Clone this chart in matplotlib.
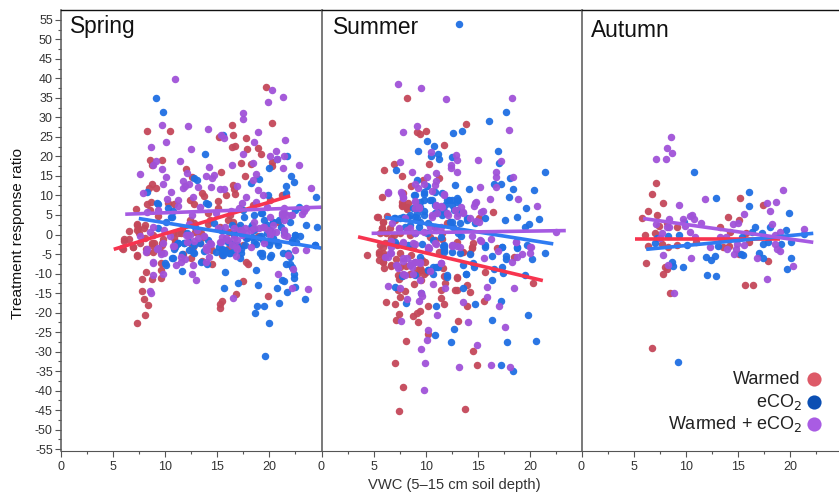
import numpy as np
import matplotlib
matplotlib.use('Agg')
import matplotlib.pyplot as plt

plt.rcParams['font.family'] = ['Liberation Sans', 'DejaVu Sans']
plt.rcParams['axes.unicode_minus'] = False

seasons = ['Spring', 'Summer', 'Autumn']
legend_labels = ['Warmed', 'eCO$_2$', 'Warmed + eCO$_2$']

# (VWC, response ratio)
spring_warmed = [(19.7,37.8),(20.3,28.6),(8.3,26.5),(10.5,26.5),(16.4,28),(15.2,25.1),(16.5,25.5),(17.8,24.6),
    (16.7,22.7),(16.4,22.5),(18.9,22.1),(17.9,21.9),(19.2,20.7),(9.7,19.1),(8.6,19),(8.8,17.8),(20.3,18.6),
    (20.3,17.6),(17.3,18.2),(18.2,18.1),(12,16.9),(15.4,15.9),(17.7,14.9),(12.6,14.7),(8.8,13),(8.5,11.9),
    (9.1,11.9),(16.5,12.7),(13.6,10.7),(13.7,9.9),(15.9,10),(16.7,10.3),(16.6,11.7),(21.2,10),(12.4,8.8),
    (12.8,7.8),(15.1,8.6),(10.9,7.8),(8.3,7.8),(8.7,8.3),(7.2,6.5),(20.1,8.8),(18.4,7.6),(14.1,5.4),(16,3.7),
    (7.3,2.7),(7.4,1.7),(6.6,1),(8,1.6),(7.5,0.5),(6.1,-1.1),(6.6,-1.1),(8.1,-1),(8.9,-0.1),(9.3,4.7),(10.9,-1),
    (11.3,0.3),(12.8,2.9),(14.1,2.7),(15.3,2),(16.1,0.7),(16.5,3.3),(16.9,2),(12.6,-3.1),(13.7,-0.6),(11,-2.7),
    (9.8,-1.2),(18.9,-0.5),(20.8,3.3),(8.8,-2.3),(6.9,-3.1),(5.9,-3.5),(6.1,-1.6),(6,-3.6),(6.9,-3.3),(7.3,-5.4),
    (8.2,-3.8),(8.8,-2.7),(9.7,-2.7),(9.6,-4.4),(9.6,-7.2),(9.6,-9.2),(8.2,-9.6),(7.8,-11.5),(8.8,-11.4),
    (9.6,-11.2),(7.8,-14.5),(8,-16.6),(8.4,-18),(8.1,-20.5),(7.3,-22.7),(11.7,-5),(12.5,-5.9),(12.7,-3.1),
    (13.6,-6.7),(14.5,-7.6),(14.5,-4),(15.5,-5.3),(18,-7.5),(17.5,-11.8),(16.8,-15.2),(15.5,-17.1),(15.3,-17.9),
    (15.3,-18.9),(19.9,-15.7),(11,-1.8),(17.5,-2.7),(16,-3.6),
    (7.3,2.4),(7.3,1.1),(8.1,2.4),(7.6,-2.3),(7.3,-5.3),(9,-2.3),(9.7,-2.3),(8.9,-4.4),(11.6,1.1),(10.8,0.3),
    (11.5,0.3),(12.9,0.7),(13.5,0.3),(13.4,-2.3),(8.6,6.3),(10.3,8),(8.3,-4.4),(12.4,3.7),(14.3,3.7),(16.2,5),
    (15.1,6.7),(17.8,-7)]
spring_eco2 = [(9.1,34.9),(9.8,31.4),(15.6,25.6),(13.8,20.6),(20.7,19.4),(21.7,20),(20,17),(22.1,15.1),(22.4,13.4),
    (21.6,12.3),(12.8,14.4),(13.1,13.9),(18.2,13.1),(19,14.1),(8.3,11),(19.9,10),(21.6,10.7),(24.5,9.6),(9.3,7.9),
    (14.1,7.7),(10.3,6.7),(10.8,6.1),(22.8,7.1),(22.5,6.3),(23.5,2.4),(24.6,1.9),(22.5,-0.1),(22.9,-0.5),
    (24.4,-2.7),(22.2,-1.4),(21.1,2),(22,3.3),(20.4,3.3),(19.5,3.7),(19.2,5.4),(17.6,4.6),(18.2,2),(19.8,0.3),
    (17.3,1.2),(16.6,0.3),(15.4,1.2),(14.1,-1.4),(11.3,-2.3),(9.3,1.6),(10.1,3.3),(10.6,4.6),(12.9,2),(14.7,2.9),
    (16,-1.8),(17.9,-1),(19.2,-0.5),(20.4,-1),(12.8,-2.7),(15.2,-3.1),(16.9,-2.7),(18.5,1.2),(20.1,1.2),(21.4,0.7),
    (12.1,0.3),(10.1,-7.8),(10.7,-6.1),(10.9,-3.7),(11.2,-2.4),(11.8,-2.3),(12.3,-2),(11.6,-5),(11.6,-9.3),
    (12.8,-4.8),(13.5,-7),(14,-7.5),(13.7,-4.2),(14.9,-4.5),(13.4,-2.3),(15.8,-9.5),(15.7,-13.6),(15.5,-4.8),
    (16.1,-4.7),(16.5,-4.4),(17.3,-4.8),(17.2,-5.9),(15.5,-3.6),(17,-12.4),(18.7,-9),(18.9,-13),(18.8,-18.2),
    (18.6,-20),(19.5,-18.2),(20,-22.6),(19.6,-31),(19.3,-5.4),(19.1,-4.8),(20.2,-5.3),(20,-2.7),(20.8,-2.7),
    (21.3,-4.7),(21.8,-4.7),(21.6,-7.5),(22,-5.7),(22,-7.6),(22.2,-8.3),(22.4,-10.2),(22.4,-11.2),(22.5,-13.4),
    (21.2,-11.7),(21.4,-12),(20.7,-13.6),(21.7,-14.7),(20.9,-17.6),(23.4,-16.5),(24.4,-2.6),(17.3,-3.6),
    (16.5,-2.7),(18.7,-2.4),
    (20.4,3.3),(20.9,3.7),(19.8,2.4),(18.3,2.4),(17.2,2.4),(16.4,2.4),(17.8,-1),(18.3,-0.6),(19,-0.6),(16.6,-0.1),
    (16.2,-2.3),(15.8,-4),(16.2,-4.8),(15.6,-5.3),(17,-3.1),(17.7,-2.7),(18.5,-1.9),(19.4,-1.4),(20.1,-1.9),
    (20.7,-1.9),(19.3,-4.8),(20.1,-5.7),(22.5,-0.1),(22.6,-1.9),(22.2,-1.9),(11.8,-2.3),(11.3,-2.3),(12.3,-4),
    (12.7,-4.4),(10.8,-6.1),(10,-7.4),(11,-3.1),(19.3,5.4),(18.5,5),(17.5,6.3),(10.7,4.6),(13.9,8),(9.2,8)]
spring_both = [(11,39.8),(20.3,37),(21.3,35.3),(19.9,33.9),(17.5,31.2),(17.5,29.7),(9.7,28.1),(12.2,27.7),(14.1,27),
    (18.9,26.3),(15.4,25.6),(15.7,24.6),(10.1,23.8),(18.5,23.8),(21.5,24.1),(8.7,22.4),(12.5,21.9),(20.6,21.5),
    (17.5,20.6),(20.1,20),(20.7,19.4),(21.4,20.1),(9.1,18.8),(11.4,18.8),(16.4,17.7),(18.4,18.2),(22.8,17.8),
    (8.9,17.8),(9.7,16.9),(21.3,17),(14.2,17.4),(7.6,15.4),(12.1,15.7),(13.9,15),(14.7,15.2),(14.5,14.5),
    (18.7,15.5),(10.1,14.6),(18.4,14),(11.7,13.8),(9.8,12.9),(12.3,12.9),(11.9,12.4),(11.7,12),(14.4,12.2),
    (13.2,12.1),(15.3,11.6),(15.7,11.6),(16.9,12.4),(18.9,11.5),(24,11.8),(10.6,11),(7.9,10.6),(12.7,9.6),
    (19.4,10),(10.2,9.1),(17.8,9.7),(11.3,8.8),(11.3,7.3),(13.4,7.1),(17.4,8),(17.1,6.7),(18.7,8.4),(19.8,7.1),
    (21.4,6.7),(23.5,6.7),(23.3,5.9),(23.1,5.2),(8.3,5.7),(21.4,5.4),(21.2,5),(22.2,5),(20.1,4.6),(12.6,5),
    (14.9,5.4),(16.3,5.9),(9.3,6.3),(18.5,3.3),(19.5,2),(20.3,0.7),(21.4,1.2),(21.7,-0.5),(18.2,1.2),(17.4,0.3),
    (16.6,-1),(16,-1.4),(15.4,-1.8),(13.7,-0.5),(13.1,1.2),(12.3,2.7),(12.2,-0.1),(10.5,-0.5),(7.6,-0.4),(9.9,1.2),
    (8.9,2),(10.9,-2.9),(9.3,-3.5),(8.3,-3.8),(9.8,-2.1),(8.2,-4.6),(9.2,-3.8),(10.8,-3),(9.6,-5.1),(8.9,-7),
    (11.1,-7.8),(11.5,-7.1),(11.9,-6.3),(12.7,-7.9),(8.9,-10.3),(9.8,-10),(12.6,-10),(13,-11.7),(8.6,-14.4),
    (8.7,-14.9),(16.5,-16.2),(20.8,-10.1),(21.8,-5.3),(22.3,-8.9),(22.2,-13.8),(23.5,-4),(22.5,-4),(23.7,-14),
    (14,-4),(13.9,-3.1),(15.3,-1.8),(16.8,-5.4),(16.8,-3.1),(18.2,-3.1),(19.5,-2.1),(14.4,-2.4),(12.8,-1.6),
    (21.2,5.4),(21.7,5),(22.1,5),(21.4,3.7),(20.4,2.4),(19.4,2),(19.9,1.1),(20.6,0.7),(21.4,-0.1),(20.1,-0.1),
    (19,1.6),(18.5,1.6),(17.7,1.6),(17.2,1.1),(16.6,1.6),(15.8,2),(15.1,1.6),(17.8,0.3),(17.4,-0.1),(16.9,-1.4),
    (16.4,-2.7),(16.9,-3.6),(15.9,-1),(15.5,-0.6),(14.3,-2.3),(13.9,-3.6),(14.2,-5.7),(13.9,-7),(12.4,-0.1),
    (12,-0.1),(12.1,-1.9),(13.2,-1),(11.5,-5.7),(8.9,-7.2),(9.9,-4.8),(8.6,0.7)]

summer_warmed = [(8.2,34.9),(13.8,28.3),(9.1,26.3),(10,26.5),(9.4,25.7),(11.7,22.8),(10.3,18.1),(6.9,18.1),(6,16.6),
    (7.7,14.9),(8.6,12.5),(9.7,14),(11.3,14.4),(5.8,9.5),(7.8,10.7),(7.7,8.4),(7.7,7.4),(8.3,8),(8.2,6.5),
    (16.4,5.8),(5.4,4.5),(5.9,3.2),(5.8,1.6),(6.3,4.8),(7,3.7),(6.2,0.3),(7.5,0.3),(8.5,-0.1),(6.7,-1),(8.8,-3.1),
    (7.2,-2.7),(5.9,-3.1),(11.5,-1.2),(13,-2),(14.5,-2.1),(14.4,-3.3),(15.1,4.1),(16.8,-3.5),(4.4,-5.3),(5.5,-5),
    (6,-5.4),(5.9,-7),(6,-8.5),(6.7,-8),(7.1,-6.3),(7.5,-4.8),(8.1,-8.1),(7.3,-10.4),(7.7,-10.6),(8.5,-10.1),
    (9.1,-10),(9.5,-9),(9.9,-7),(10,-9.5),(7.4,-11.3),(8.9,-12.8),(9.5,-11.7),(8,-14.4),(7.3,-14.2),(7.5,-16),
    (6.2,-17.2),(7,-17.7),(10.2,-18.3),(11.7,-17.8),(11.4,-16.3),(11.4,-14.2),(11.8,-12.5),(11.6,-8.7),(11.7,-10.6),
    (13,-11.2),(12.8,-14.1),(13,-14.3),(13.9,-13),(14.2,-14.8),(13.9,-18.2),(15.6,-17),(15.7,-9.7),(20.3,-12.4),
    (7.4,-20.4),(7.1,-21.8),(8.8,-20.9),(9.1,-20),(9.4,-19.6),(9.2,-22.4),(13.1,-22.1),(10.2,-25.5),(8.1,-27.3),
    (14.5,-29.8),(7,-32.9),(14.9,-33.3),(7.8,-39.1),(7.4,-45.3),(13.7,-44.7),(13.5,-4.4),(14.4,-3.5),(11.3,-4.4),
    (8.6,-5.3),(9.6,-6.5),(18.4,-5.7),
    (7.7,7.6),(8.2,7.1),(5.3,4.6),(5.9,3.3),(5.8,1.6),(6.6,1.6),(5.6,0.3),(6.9,-0.1),(6.1,-2.3),(5.6,-2.7),(6.6,-1.8),
    (5.5,-4.4),(5.9,-4.8),(5.5,-6.5),(5.9,-7),(6.7,-7.8),(7.5,-8.3),(7.7,-10.4),(9.4,-8.7),(9.8,-10),(9.1,-9.1),
    (12,2.9),(12.3,3.3),(13,1.1),(10.4,-0.6),(10.9,-1.4),(13.6,-4.4),(14.2,-4.8),(13,-10.8),(11.5,0.3)]
summer_eco2 = [(13.2,53.9),(17.7,31.3),(16,29),(13.5,26.5),(12.6,25.9),(10.1,24),(10.8,22.6),(9.2,21.4),(11.2,20.5),
    (11.3,19.4),(10.5,20),(12.5,19.9),(16.9,21.4),(17,18.3),(7.1,16.6),(21.4,15.9),(9.1,13.9),(12.8,12.8),
    (14.1,11.6),(16.5,13),(17.2,12.9),(18.1,14.4),(18.3,11.7),(20.4,11.3),(18,9.5),(19.6,6.7),(18.7,4.6),(17.6,3.7),
    (20.8,4),(19.9,2.7),(19.5,1.8),(15.7,4.3),(13.9,4.1),(9.8,11),(10.1,12.3),(8.9,10.1),(10.4,8.9),(11.5,10.7),
    (12,8.9),(12.5,8.9),(13,9.3),(13,8.2),(12.7,6.4),(13.1,5.4),(11.8,7.5),(10.9,7.5),(9.8,6.1),(9,4.6),(8.3,4.6),
    (7.5,4.1),(9.4,3.3),(10.9,5.4),(11.5,5),(12.3,3.3),(10.9,2),(12.6,2),(10.1,0.3),(10.7,-1.4),(11.7,-3.1),
    (13.4,-0.5),(15.7,-3.1),(18.7,-3.1),(19.7,-2.7),(17.3,-3.3),(9,0.3),(6.9,4.1),(8.8,6.7),(9.4,8.4),(9.1,5.4),
    (7,-13.4),(8.1,-17.5),(9.5,-14.9),(11,-18.4),(13.6,-13.8),(14.7,-17.8),(17.2,-17),(19.8,-20.5),(16.3,-22),
    (12.7,-24.1),(10.9,-25.7),(12.4,-27.5),(17.8,-27.6),(20.5,-27.3),(17.2,-33.4),(18.3,-35),(16.3,-11.7),(13.8,-10),
    (12,-10.8),(10.7,-10.1),(10.2,-9.1),(11,-8.2),(7.7,-10.6),(9,-10.4),(13.6,-7.8),(14.5,-7.2),(14.6,-8.4),
    (16.5,-8.8),(17.3,-8.2),(17.4,-9.8),(19.5,-10.3),(14.2,-5),(16.3,-5.4),(17.7,-5.4),(17.7,-6.3),(20.2,-6.4),
    (21.4,-4.8),(18.7,-3.5),(17.3,-3.3),(15.7,-2.7),(11.7,-4),(11.6,-2.9),(9.4,-5.7),(8.3,-2.7),(9.6,-2.4),
    (9,10.1),(9.8,10.5),(10.6,8.8),(9.8,8.8),(9.4,7.1),(10.9,11),(12.2,8.8),(13.1,8.8),(12.5,7.6),(13,6.3),(11.8,5.8),
    (11.2,5.8),(8.5,5),(7.8,4.6),(7,4.1),(9.8,5),(9.1,4.1),(10.2,2.9),(9.3,2),(8.5,2.4),(12.5,3.3),(13.3,2.9),
    (13.9,3.7),(14.7,2.9),(11.4,-0.6),(11.7,-2.7),(11.7,-4.4),(12.5,-4.4),(13.3,-4.8),(13.1,0.3),(10.7,-8.3),
    (10.2,-9.1),(12,-10.4),(13.8,-10),(11.2,-8.3),(7,-1.8),(8,2)]
summer_both = [(7.3,38.6),(9.5,37.4),(11.9,34.8),(18.2,34.9),(18,26.8),(7.8,26.2),(9.1,27.7),(10.5,21.2),(12.9,20.4),
    (13,19.1),(15,19.2),(17.2,18.7),(12.4,17.7),(12.4,17.1),(7.5,18.5),(8.7,15.9),(13,15.9),(16.7,16),(16.7,14.7),
    (18.3,14.7),(11,15.7),(10.1,14.6),(11,13.7),(10.9,12.6),(9,12.9),(9.2,11.8),(9.8,12.9),(16.7,12.2),(15.2,12.2),
    (6.4,10.9),(7.6,10.8),(7.8,9.7),(11.7,10.1),(10.6,11.1),(16.1,9.2),(18.8,9),(14.8,8.3),(14.6,7.3),(20.6,7.3),
    (9,8.4),(9,6.7),(9.3,7.1),(11,7.3),(11.4,7.3),(13.4,7.1),(13.6,5.7),(15.5,6.1),(15.3,5.7),(14.8,3.5),(15.1,3.1),
    (11.1,5.4),(12.1,5),(10.6,4.6),(13,4.7),(6.8,3),(7.4,1.6),(8.2,1.2),(8.5,1.6),(9.8,0.7),(10.4,2),(22.5,0.7),
    (14.4,-0.4),(16.2,-1.1),(15.3,-1.6),(18.6,-1.8),(20.1,-3.3),(12.5,-2.9),(10.2,-3.3),(11,-2.4),(7.8,-2.1),
    (6.7,-1.6),(6.4,-13.3),(7.5,-13.6),(8.2,-16.4),(9.3,-17),(9.5,-15.1),(9.6,-15.7),(9.4,-11.7),(10.7,-12.6),
    (11.8,-13.6),(13.6,-17.2),(15.9,-13.5),(15.9,-16),(17,-18.3),(18.4,-13.8),(11.1,-20.6),(7.6,-22.2),(14,-22.5),
    (17.6,-23.8),(10.2,-24.4),(10.1,-27.1),(14.9,-28.2),(9.5,-29.2),(9.9,-33),(13.2,-34),(16.2,-33.3),(18.1,-33.9),
    (9.8,-39.7),(6.4,-5.7),(6.7,-4.7),(7.1,-7.8),(7.3,-8.7),(8.6,-7.4),(8.7,-8.4),(9,-7.1),(9.4,-7),(7.8,-6.8),
    (8.2,-5.9),(7.8,-10.2),(10.4,-9.4),(11.4,-7.4),(12.5,-2.7),(13,-3),(10.3,-3.4),(15.6,-5.9),(16.9,-4.2),(18.2,-7),
    (18.7,-5.7),(19.2,-5),(20,-3.3),(20,-4.8),(18.6,-1.8),(10.9,-2.3),(9,-2.4),
    (6.4,10.7),(7.7,10.5),(7.8,9.3),(9,8.6),(9.3,6.9),(11.7,10.3),(11,7.6),(11.5,7.1),(12,5.4),(12.8,6.3),(13.6,5.4),
    (14.2,4.1),(14.7,8),(10.6,5),(8,4.1),(7.4,1.4),(9,0.3),(7.8,-1.8),(8.8,-2.3),(10.2,-3.6),(6.7,-3.1),(6.6,-4.8),
    (6.1,-5.7),(7.2,-7.8),(7.8,-6.1),(8.5,-7.8),(9,-7),(9.4,-7.3),(11.4,-7.4),(8.8,-10),(8,-10.4),(12.6,-2.7),
    (13.3,-3.1),(15.2,-1.4),(11,1.1),(11.4,2)]

autumn_warmed = [(7.1,13.1),(6.8,10.3),(7.8,8.1),(6.4,5.9),(7.2,5.1),(5.8,4.1),(15.2,9.3),(17.4,7.6),(14,4.6),(15.1,3.7),
    (13.3,2),(7.4,2.3),(9.1,1.8),(7,0.5),(6.1,0),(8.2,2.9),(7.7,-2.4),(6.4,-3),(8.3,-3.1),(9.1,-2.7),(13.6,-3.1),
    (14.1,-2.9),(16,-1.8),(14.2,0.7),(15.8,0.3),(15.1,-5.1),(17.9,-6.7),(6.2,-7.4),(8,-8.2),(8.2,-8.9),(7.8,-10.1),
    (15.7,-12.9),(16.4,-12.9),(8.5,-14.9),(11,-1.8),(6.75,-29)]
autumn_eco2 = [(10.8,16.1),(16,10.9),(12.9,9.3),(16,7.3),(19.9,5.5),(16.6,1.8),(18.1,1.8),(19.6,1.2),(21.3,0.1),(17.3,0.5),
    (16.3,0.7),(8.3,-0.3),(9.3,0),(7.2,-1),(9.8,3.3),(7,-2.1),(10.1,-2.8),(13.1,-3),(20.1,-2),(19.1,-2.5),(17.4,-2.5),
    (17.9,-1.8),(15.4,-0.6),(15.3,-5),(15.5,-5.3),(17,-4.8),(17.4,-6.1),(11.9,-5.8),(12.4,-6.5),(12.8,-5.6),
    (20.1,-6.1),(19.7,-8.8),(8.7,-7),(8.8,-8.1),(9.7,-8.3),(12,-10.5),(12.9,-10.6),(9.2,-32.7)]
autumn_both = [(8.6,25.1),(8.2,22.2),(8.7,20.8),(7.1,19.3),(8.1,19.4),(9.3,7.5),(11.8,9),(19.3,11.3),(17.8,8.1),(18.6,8.2),
    (18.1,6.1),(15.6,5.3),(10.6,5.1),(10.4,4.7),(10.8,3.9),(9.7,3.9),(8.4,3.9),(11.4,3),(15,3),(14.5,2.6),(7.1,2.6),
    (8.2,1.8),(8.4,2),(9.9,2.2),(10.4,0.7),(7.7,0.3),(10.9,-0.6),(18.2,2.6),(21.3,1.5),(19,0.7),(18.5,-0.1),(13.8,-0.6),
    (13.3,-0.7),(14.9,-2.4),(15.6,-2.7),(12.3,-3.1),(13.9,-3.7),(14.8,-3.8),(14.6,-5),(18.5,-2.5),(18.7,-3.6),
    (19,-4.2),(7.8,-5.3),(10.5,-6.1),(16.8,-6),(8.3,-7.8),(20.3,-8.1),(17.8,-11.4),(8.9,-15.1),(7.5,-1)]

# fitted lines, (x start, x end, y start, y end)
spring_fits = [(5.1, 22, -3.8, 9.9), (7.5, 25, 4.1, -3.5), (6.2, 25, 5.2, 7)]
summer_fits = [(3.5, 21.2, -0.6, -11.8), (6.1, 22.2, 4.4, -2.4), (4.8, 23.4, 0.3, 1)]
autumn_fits = [(5.1, 19, -1.2, -1.2), (6.2, 22.2, -3.8, 0.3), (5.9, 22.2, 4.1, -2)]

point_colors = ['#c4485a', '#1f6fe3', '#a052d8']
line_colors = ['#f7344f', '#2f7bf2', '#a65ae2']
legend_colors = ['#dd5a68', '#0b4fb3', '#a95ce3']

W, H = 839.0, 495.0
panel_edges = [60.5, 321.5, 581.5, 839.0]
top, bottom = 10.0, 451.0
px_per_unit = 10.44
title_pos = [(69.5, 32.5), (332.5, 33.5), (590.5, 37)]

fig = plt.figure(figsize=(W / 100, H / 100), dpi=100)
all_points = [(spring_warmed, spring_eco2, spring_both),
              (summer_warmed, summer_eco2, summer_both),
              (autumn_warmed, autumn_eco2, autumn_both)]
all_fits = [spring_fits, summer_fits, autumn_fits]

for i, season in enumerate(seasons):
    left, right = panel_edges[i], panel_edges[i + 1]
    ax = fig.add_axes([left / W, 1 - bottom / H, (right - left) / W, (bottom - top) / H])

    for pts, c, z in zip(all_points[i], point_colors, [2, 3, 4]):
        xy = np.array(pts).T
        ax.scatter(xy[0], xy[1], s=29, color=c, linewidth=0, alpha=0.95, zorder=z)
    for fit, c in zip(all_fits[i], line_colors):
        ax.plot(fit[:2], fit[2:], color=c, lw=2.6, solid_capstyle='butt', zorder=5)

    ax.set_xlim(0, (right - left) / px_per_unit)
    ax.set_ylim(-55.45, 57.5)
    ax.set_xticks([0, 5, 10, 15, 20])
    ax.set_xticks([2.5, 7.5, 12.5, 17.5, 22.5], minor=True)
    ax.tick_params(axis='x', which='major', length=4, width=0.8, color='#555555', labelcolor='#333333',
                   labelsize=9, pad=3)
    ax.tick_params(axis='x', which='minor', length=2.5, width=0.8, color='#555555')

    ax.spines['top'].set_color('#111111')
    ax.spines['top'].set_linewidth(1.0)
    ax.spines['bottom'].set_color('#555555')
    ax.spines['left'].set_color('#555555')
    ax.spines['left'].set_linewidth(1.1)
    ax.spines['right'].set_visible(False)

    if i == 0:
        ax.set_yticks(np.arange(-55, 56, 5))
        ax.set_yticks(np.arange(-52.5, 55, 5), minor=True)
        ax.tick_params(axis='y', which='major', length=4, width=0.8, color='#555555', labelcolor='#333333',
                       labelsize=9, pad=1.5)
        ax.tick_params(axis='y', which='minor', length=2.5, width=0.8, color='#555555')
    else:
        ax.set_yticks([])

    fig.text(title_pos[i][0] / W, 1 - title_pos[i][1] / H, season, fontsize=16.4, color='#111111',
             va='baseline', ha='left')

fig.text(454.5 / W, 1 - 485 / H, 'VWC (5–15 cm soil depth)', fontsize=10.6, color='#333333', ha='center', va='center')
fig.text(18.5 / W, 1 - 234 / H, 'Treatment response ratio', fontsize=11.1, color='#111111', rotation=90,
         ha='center', va='center')

# legend drawn by hand, the text sits left of the circles
legend_ax = fig.add_axes([0, 0, 1, 1])
legend_ax.set_xlim(0, W)
legend_ax.set_ylim(H, 0)
legend_ax.axis('off')
for label, c, y, x in zip(legend_labels, legend_colors, [379, 402, 424], [800, 802, 802]):
    legend_ax.text(x, y, label, fontsize=13, color='#222222', ha='right', va='center')
    legend_ax.scatter([814], [y], s=104, color=c, linewidth=0)

fig.savefig('out.png', dpi=100)
